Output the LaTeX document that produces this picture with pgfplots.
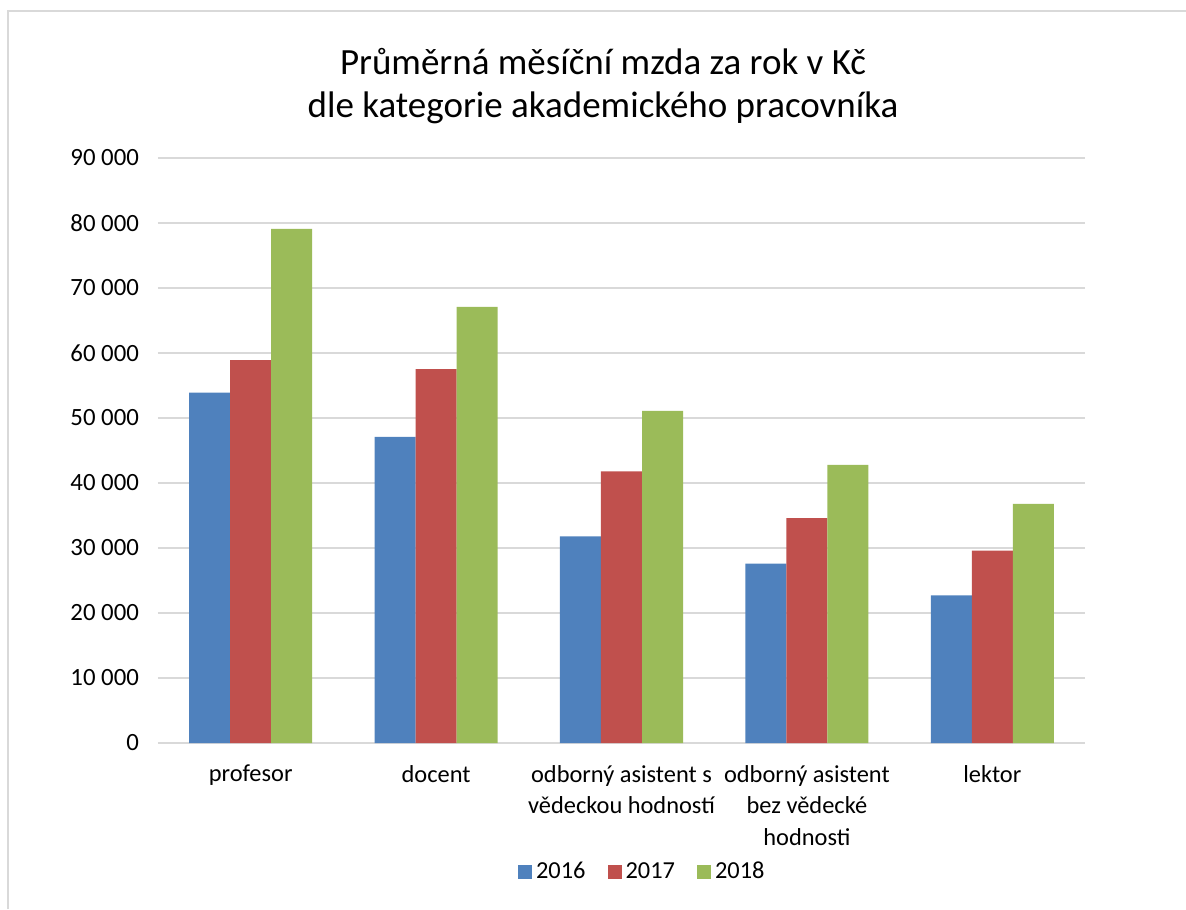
\documentclass[border=0pt]{standalone}
\usepackage{fontspec}
\setmainfont{Carlito}
\usepackage{pgfplots}
\pgfplotsset{compat=1.18}
\definecolor{c16}{HTML}{4F81BD}
\definecolor{c17}{HTML}{C0504D}
\definecolor{c18}{HTML}{9BBB59}
\definecolor{gridc}{HTML}{D9D9D9}
\begin{document}
\begin{tikzpicture}
\useasboundingbox (-79pt,-83pt) rectangle (514pt,371.5pt);
\draw[color=gridc, line width=0.9pt] (-75pt,-83pt) -- (-75pt,366pt) -- (514pt,366pt);
\begin{axis}[
  at={(0pt,0pt)}, anchor=south west,
  scale only axis, width=463.5pt, height=292.5pt,
  ybar=0pt, bar width=0.2213,
  xmin=-0.5, xmax=4.5, ymin=0, ymax=90000,
  xtick={0,1,2,3,4},
  xticklabels={profesor, docent, {odborný asistent s\\vědeckou hodností}, {odborný asistent\\bez vědecké\\hodnosti}, lektor},
  xticklabel style={align=center, font=\fontsize{12.2}{15.75}\selectfont, yshift=-7.5pt},
  ytick={0,10000,...,90000},
  yticklabel style={font=\fontsize{12.4}{14}\selectfont, xshift=-6pt},
  /pgf/number format/1000 sep={\ },
  /pgf/number format/assume math mode=true,
  scaled y ticks=false,
  ymajorgrids, major grid style={color=gridc, line width=0.8pt},
  axis line style={draw=none}, major tick length=0pt,
  clip=false,
  legend columns=-1,
  legend style={at={(0.5235,0)}, yshift=-64.5pt, anchor=center, draw=none, fill=none,
    font=\fontsize{12.2}{14}\selectfont,
    /tikz/every even column/.append style={column sep=9pt}},
  legend image code/.code={\fill[#1] (0pt,-3.5pt) rectangle (7pt,3.5pt);},
]
\addplot[fill=c16, draw=none] coordinates {(0,53900) (1,47100) (2,31800) (3,27600) (4,22700)};
\addplot[fill=c17, draw=none] coordinates {(0,58900) (1,57500) (2,41800) (3,34600) (4,29600)};
\addplot[fill=c18, draw=none] coordinates {(0,79100) (1,67100) (2,51100) (3,42800) (4,36800)};
\legend{2016,2017,2018}
\node[align=center, font=\fontsize{18.5}{21.5}\selectfont] at (rel axis cs:0.48,1) [yshift=35.75pt] {Průměrná měsíční mzda za rok v Kč\\dle kategorie akademického pracovníka};
\end{axis}
\end{tikzpicture}
\end{document}
